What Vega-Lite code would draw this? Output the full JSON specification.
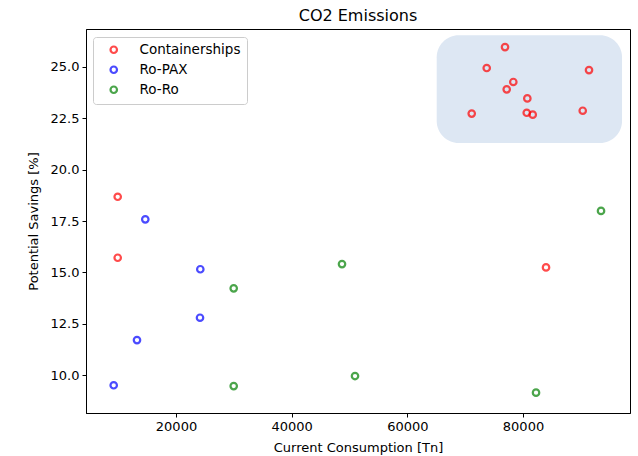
{
  "$schema": "https://vega.github.io/schema/vega-lite/v6.json",
  "autosize": {"type": "none"},
  "padding": {"left": 86, "top": 29, "right": 8, "bottom": 43},
  "width": 544,
  "height": 384,
  "background": "white",
  "title": {"text": "CO2 Emissions", "fontSize": 16, "font": "DejaVu Sans", "fontWeight": "normal", "color": "#000", "offset": 5, "anchor": "middle"},
  "datasets": {
    "box": [{"x1": 65080, "x2": 97124, "y1": 26.54, "y2": 21.30}],
    "pts": [
      {"type": "Containerships", "consumption": 9919, "savings": 18.68},
      {"type": "Containerships", "consumption": 9919, "savings": 15.71},
      {"type": "Containerships", "consumption": 83981, "savings": 15.24},
      {"type": "Containerships", "consumption": 76891, "savings": 25.97},
      {"type": "Containerships", "consumption": 73727, "savings": 24.95},
      {"type": "Containerships", "consumption": 91414, "savings": 24.85},
      {"type": "Containerships", "consumption": 78326, "savings": 24.27},
      {"type": "Containerships", "consumption": 77183, "savings": 23.91},
      {"type": "Containerships", "consumption": 80749, "savings": 23.47},
      {"type": "Containerships", "consumption": 71133, "savings": 22.73},
      {"type": "Containerships", "consumption": 80645, "savings": 22.77},
      {"type": "Containerships", "consumption": 81682, "savings": 22.68},
      {"type": "Containerships", "consumption": 90327, "savings": 22.87},
      {"type": "Ro-PAX", "consumption": 14691, "savings": 17.58},
      {"type": "Ro-PAX", "consumption": 24202, "savings": 15.15},
      {"type": "Ro-PAX", "consumption": 24150, "savings": 12.79},
      {"type": "Ro-PAX", "consumption": 13256, "savings": 11.70},
      {"type": "Ro-PAX", "consumption": 9227, "savings": 9.50},
      {"type": "Ro-Ro", "consumption": 29977, "savings": 14.22},
      {"type": "Ro-Ro", "consumption": 29977, "savings": 9.46},
      {"type": "Ro-Ro", "consumption": 48705, "savings": 15.40},
      {"type": "Ro-Ro", "consumption": 50953, "savings": 9.95},
      {"type": "Ro-Ro", "consumption": 93491, "savings": 17.99},
      {"type": "Ro-Ro", "consumption": 82252, "savings": 9.14}
    ]
  },
  "layer": [
    {
      "data": {"name": "box"},
      "mark": {"type": "rect", "color": "#dde7f3", "cornerRadius": 22},
      "encoding": {
        "x": {"field": "x1", "type": "quantitative", "scale": {"domain": [4438, 98502], "nice": false, "zero": false}},
        "x2": {"field": "x2"},
        "y": {"field": "y1", "type": "quantitative", "scale": {"domain": [8.15, 26.85], "nice": false, "zero": false}},
        "y2": {"field": "y2"}
      }
    },
    {
      "data": {"name": "pts"},
      "mark": {"type": "point", "filled": false, "strokeWidth": 2.2, "size": 42, "opacity": 0.7, "shape": "circle"},
      "encoding": {
        "x": {"field": "consumption", "type": "quantitative", "title": "Current Consumption [Tn]",
              "scale": {"domain": [4438, 98502], "nice": false, "zero": false},
              "axis": {"values": [20000, 40000, 60000, 80000], "format": "d"}},
        "y": {"field": "savings", "type": "quantitative", "title": "Potential Savings [%]",
              "scale": {"domain": [8.15, 26.85], "nice": false, "zero": false},
              "axis": {"values": [10, 12.5, 15, 17.5, 20, 22.5, 25], "format": ".1f"}},
        "color": {"field": "type", "type": "nominal",
                  "scale": {"domain": ["Containerships", "Ro-PAX", "Ro-Ro"], "range": ["#ff0000", "#0000ff", "#008000"]},
                  "legend": {"title": null, "orient": "none", "legendX": 7, "legendY": 8}}
      }
    }
  ],
  "config": {
    "font": "DejaVu Sans",
    "view": {"stroke": "#000", "strokeWidth": 1},
    "axis": {"grid": false, "domainColor": "#000", "tickColor": "#000", "labelColor": "#000", "titleColor": "#000",
             "tickSize": 4, "labelFontSize": 13, "titleFontSize": 13, "labelFont": "DejaVu Sans", "titleFont": "DejaVu Sans",
             "titleFontWeight": "normal", "labelPadding": 3},
    "axisX": {"titlePadding": 8},
    "axisY": {"titlePadding": 10},
    "legend": {"padding": 6, "strokeColor": "#cccccc", "fillColor": "white", "cornerRadius": 3,
               "labelFontSize": 13.5, "labelFont": "DejaVu Sans", "labelColor": "#000", "symbolSize": 42, "symbolStrokeWidth": 2.2,
               "symbolOpacity": 0.7, "rowPadding": 4, "symbolOffset": 8, "labelOffset": 19, "symbolType": "circle"}
  }
}
